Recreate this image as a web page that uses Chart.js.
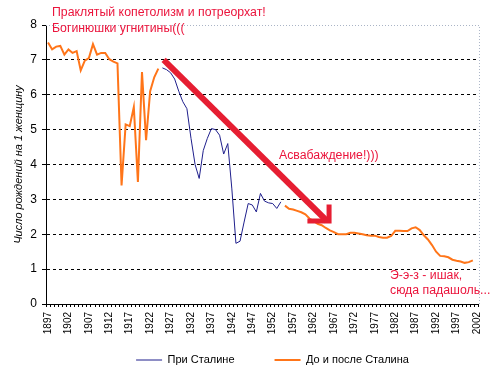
<!DOCTYPE html>
<html>
<head>
<meta charset="utf-8">
<script src="https://cdn.jsdelivr.net/npm/chart.js@4"></script>
<style>
  body { margin: 0; background: #fff; }
  #wrap { position: relative; width: 494px; height: 376px; }
  .note { position: absolute; font: 12.3px Arial, "Liberation Sans", sans-serif; color: #eb143c; line-height: 15.5px; white-space: nowrap; }
</style>
</head>
<body>
<div id="wrap">
  <canvas id="myChart" width="494" height="376"></canvas>
  <div class="note" style="left:52px; top:5px;">Праклятый копетолизм и потреорхат!<br>Богинюшки угнитины(((</div>
  <div class="note" style="left:279px; top:148px;">Асвабаждение!)))</div>
  <div class="note" style="left:390px; top:268px; line-height:15px;">Э-э-з - ишак,<br>сюда падашоль...</div>
</div>
<script>
// years on the category axis
const firstYear = 1897;
const years = Array.from({length: 106}, (_, i) => firstYear + i);

// 1897-1924
const beforeVals = [7.5, 7.3, 7.38, 7.4, 7.15, 7.3, 7.2, 7.25, 6.7, 6.98,
                    7.05, 7.45, 7.15, 7.2, 7.2, 7.02, 6.95, 6.9, 3.4, 5.15,
                    5.1, 5.65, 3.5, 6.65, 4.7, 6.1, 6.5, 6.75];
// 1925-1954
const stalinVals = [6.77, 6.72, 6.63, 6.45, 6.1, 5.8, 5.6, 4.75, 4.0, 3.6,
                    4.4, 4.75, 5.03, 5.0, 4.84, 4.3, 4.6, 3.3, 1.74, 1.8,
                    2.35, 2.88, 2.84, 2.64, 3.17, 2.95, 2.9, 2.88, 2.74, 2.93];
// 1955-2001
const afterVals = [2.82, 2.73, 2.71, 2.67, 2.63, 2.57, 2.45, 2.38, 2.3, 2.26,
                   2.18, 2.11, 2.06, 2.0, 2.0, 2.0, 2.04, 2.04, 2.02, 2.0,
                   1.97, 1.96, 1.96, 1.92, 1.9, 1.9, 1.95, 2.1, 2.1, 2.09,
                   2.09, 2.17, 2.2, 2.12, 1.97, 1.85, 1.69, 1.5, 1.38, 1.37,
                   1.34, 1.27, 1.24, 1.22, 1.18, 1.2, 1.25];

// arrow (in year / value units)
const arrowLine = [[1925.3, 7.0], [1965.3, 2.38]];
const arrowHead = [[1960.5, 2.38], [1965.8, 2.38], [1965.8, 2.85]];

function fill(start, vals) {
    return years.map(y => {
        const i = y - start;
        return (i >= 0 && i < vals.length) ? vals[i] : null;
    });
}

const dataStalin = fill(1925, stalinVals);
const dataOther = years.map((y, i) => {
    const a = fill(1897, beforeVals)[i];
    return a !== null ? a : fill(1955, afterVals)[i];
});

const decor = {
    id: 'decor',
    afterLayout(chart) {
        // nudge legend right and up (item gap is big, box is kept small)
        chart.legend.left += 10;
        chart.legend.right += 10;
        chart.legend.top -= 30.5;
    },
    beforeDatasetsDraw(chart) {
        const ctx = chart.ctx, a = chart.chartArea;
        ctx.save();
        ctx.strokeStyle = '#aab4c6';
        ctx.lineWidth = 1;
        ctx.setLineDash([1, 2]);
        ctx.beginPath();
        ctx.moveTo(a.left, a.top + 0.5);
        ctx.lineTo(a.right + 0.5, a.top + 0.5);
        ctx.lineTo(a.right + 0.5, a.bottom);
        ctx.stroke();
        ctx.restore();
    },
    afterDatasetsDraw(chart) {
        const ctx = chart.ctx, sx = chart.scales.x, sy = chart.scales.y;
        const px = p => [sx.getPixelForValue(p[0] - firstYear), sy.getPixelForValue(p[1])];
        ctx.save();
        ctx.strokeStyle = '#e61e32';
        ctx.lineWidth = 6;
        ctx.beginPath();
        arrowLine.forEach((p, i) => { const q = px(p); i ? ctx.lineTo(q[0], q[1]) : ctx.moveTo(q[0], q[1]); });
        ctx.stroke();
        ctx.lineWidth = 5;
        ctx.lineJoin = 'miter';
        ctx.beginPath();
        arrowHead.forEach((p, i) => { const q = px(p); i ? ctx.lineTo(q[0], q[1]) : ctx.moveTo(q[0], q[1]); });
        ctx.stroke();
        ctx.restore();
    }
};

const ctx = document.getElementById('myChart').getContext('2d');
const myChart = new Chart(ctx, {
    type: 'line',
    data: {
        labels: years,
        datasets: [
            {
                label: 'При Сталине',
                data: dataStalin,
                borderColor: '#1f1f8c',
                backgroundColor: '#1f1f8c',
                borderWidth: 1,
                pointRadius: 0,
                tension: 0
            },
            {
                label: 'До и после Сталина',
                data: dataOther,
                borderColor: '#ff7519',
                backgroundColor: '#ff7519',
                borderWidth: 2,
                pointRadius: 0,
                tension: 0
            }
        ]
    },
    options: {
        responsive: false,
        animation: false,
        devicePixelRatio: 1,
        layout: { padding: { top: 25, right: 15, bottom: 0, left: 0 } },
        plugins: {
            legend: {
                position: 'bottom',
                fullSize: false,
                maxHeight: 31,
                labels: {
                    usePointStyle: true,
                    pointStyle: 'line',
                    pointStyleWidth: 26,
                    padding: 40,
                    color: '#000',
                    font: { family: 'Arial', size: 11 }
                }
            },
            tooltip: { enabled: false }
        },
        scales: {
            x: {
                offset: true,
                grid: { display: true, drawOnChartArea: false, drawTicks: true, tickLength: 3, color: '#000', offset: true },
                border: { display: true, color: '#000', width: 1 },
                ticks: {
                    autoSkip: false,
                    maxRotation: 90,
                    minRotation: 90,
                    padding: 5,
                    color: '#000',
                    font: { family: 'Arial', size: 10 },
                    callback: (v, i) => i % 5 === 0 ? String(years[i]) : ''
                },
                afterFit: s => { s.height = 41; }
            },
            y: {
                min: 0,
                max: 8,
                ticks: { stepSize: 1, padding: 5, color: '#000', font: { family: 'Arial', size: 12 } },
                grid: {
                    color: c => c.tick && c.tick.value === 8 ? 'rgba(0,0,0,0)' : '#000',
                    tickColor: '#000',
                    tickLength: 4
                },
                border: { display: true, color: '#000', width: 1, dash: [3, 3] },
                title: {
                    display: true,
                    text: 'Число рождений на 1 женщину',
                    color: '#000',
                    font: { family: 'Arial', size: 11, style: 'italic' },
                    padding: { top: 12, bottom: 0 }
                },
                afterFit: s => { s.width = 46; }
            }
        }
    },
    plugins: [decor]
});
</script>
</body>
</html>
